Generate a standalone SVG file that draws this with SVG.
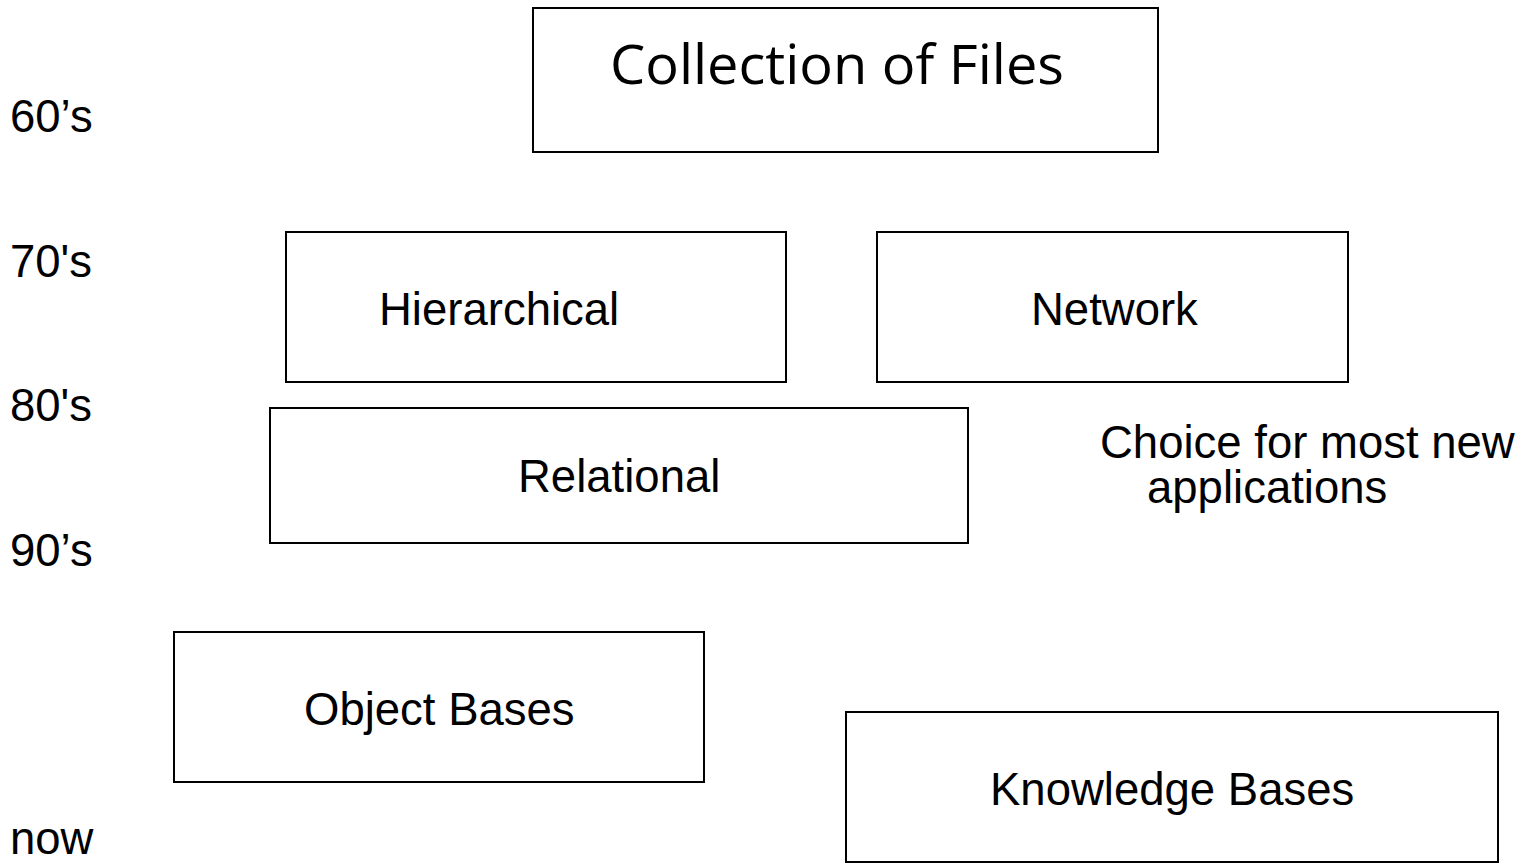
<svg xmlns="http://www.w3.org/2000/svg" width="1518" height="865" viewBox="0 0 1518 865">
  <style>
    .box { fill: #ffffff; stroke: #000000; stroke-width: 2; }
    .lbl { font-family: "Liberation Sans", Arial, sans-serif; font-size: 45.5px; fill: #000000; }
    .title { font-family: "Open Sans", "Noto Sans", sans-serif; font-size: 54px; fill: #000000; }
  </style>
  <rect width="1518" height="865" fill="#ffffff"/>

  <!-- era labels down the left edge -->
  <g id="eras">
    <text class="lbl" x="10" y="132">60’s</text>
    <text class="lbl" x="10" y="277">70's</text>
    <text class="lbl" x="10" y="421">80's</text>
    <text class="lbl" x="10" y="566">90’s</text>
    <text class="lbl" x="10" y="854">now</text>
  </g>

  <g id="collection">
    <rect class="box" x="533" y="8" width="625" height="144"/>
    <text class="title" x="610" y="84" textLength="454" lengthAdjust="spacingAndGlyphs">Collection of Files</text>
  </g>

  <g id="hierarchical">
    <rect class="box" x="286" y="232" width="500" height="150"/>
    <text class="lbl" x="379" y="325">Hierarchical</text>
  </g>

  <g id="network">
    <rect class="box" x="877" y="232" width="471" height="150"/>
    <text class="lbl" x="1031" y="325">Network</text>
  </g>

  <g id="relational">
    <rect class="box" x="270" y="408" width="698" height="135"/>
    <text class="lbl" x="518" y="492">Relational</text>
  </g>

  <g id="note">
    <text class="lbl" x="1100" y="458">Choice for most new</text>
    <text class="lbl" x="1147" y="503">applications</text>
  </g>

  <g id="object-bases">
    <rect class="box" x="174" y="632" width="530" height="150"/>
    <text class="lbl" x="304" y="725">Object Bases</text>
  </g>

  <g id="knowledge-bases">
    <rect class="box" x="846" y="712" width="652" height="150"/>
    <text class="lbl" x="990" y="805">Knowledge Bases</text>
  </g>

  <g id="connectors"/>
</svg>
